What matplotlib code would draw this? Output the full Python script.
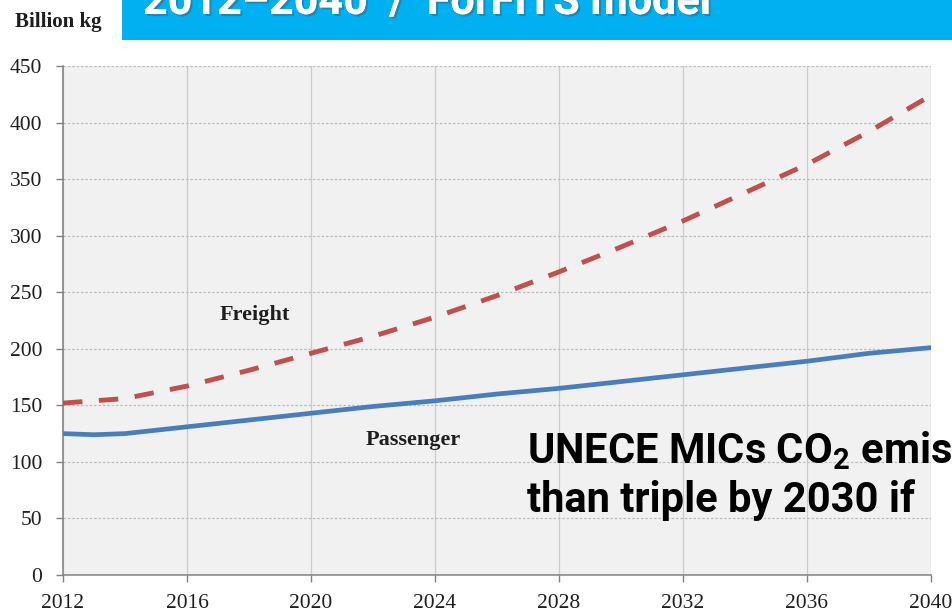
"""ForFITS projection of inland transport CO2 emissions, UNECE MICs, 2012-2040."""
import matplotlib
matplotlib.use("Agg")
import matplotlib.pyplot as plt
from matplotlib import patheffects
from matplotlib.patches import Rectangle

# ------------------------------ data ------------------------------

freight_years = [2012, 2014, 2016, 2018, 2020, 2022, 2024, 2026, 2028, 2030,
                 2032, 2034, 2036, 2038, 2040]
freight_kg = [152, 156, 167, 181, 196, 211, 228, 247, 268, 290,
              313, 338, 363, 392, 424]

passenger_years = [2012, 2013, 2014, 2016, 2018, 2020, 2022, 2024, 2026, 2028,
                   2030, 2032, 2034, 2036, 2038, 2040]
passenger_kg = [125, 124, 125, 131, 137, 143, 149, 154, 160, 165,
                171, 177, 183, 189, 196, 201]

x_ticks = [2012, 2016, 2020, 2024, 2028, 2032, 2036, 2040]
y_ticks = [0, 50, 100, 150, 200, 250, 300, 350, 400, 450]

W, H = 953, 612
SERIF = ["Liberation Serif", "DejaVu Serif"]
SLIDE = ["Roboto", "DejaVu Sans"]

plt.rcParams["mathtext.fontset"] = "custom"
plt.rcParams["mathtext.rm"] = "Roboto:bold"
plt.rcParams["mathtext.it"] = "Roboto:bold"


def px(x, y):
    """Pixel coords (origin top-left) -> figure fraction."""
    return x / W, 1 - y / H


def main():
    fig = plt.figure(figsize=(W / 100, H / 100), dpi=100)
    fig.patch.set_facecolor("white")

    left, top = px(63, 66)
    right, bottom = px(931, 575)
    ax = fig.add_axes([left, bottom, right - left, top - bottom])
    ax.set_facecolor("#f1f1f1")

    ax.plot(freight_years, freight_kg, color="#c0504d", lw=3.5,
            dashes=(4.0, 3.4), zorder=3)
    ax.plot(passenger_years, passenger_kg, color="#4a7ebb", lw=3.4, zorder=3)

    ax.set_xlim(2012, 2040); ax.set_ylim(0, 450)
    ax.set_xticks(x_ticks); ax.set_yticks(y_ticks)
    ax.tick_params(direction="out", length=5, width=1, color="#808080",
                   labelsize=15.5, labelcolor="#1e1e1e")
    ax.tick_params(axis="y", pad=10)
    ax.tick_params(axis="x", pad=9)
    for lab in ax.get_xticklabels() + ax.get_yticklabels():
        lab.set_family(SERIF)

    ax.xaxis.grid(True, color="#cbcbcb", lw=0.9)
    ax.yaxis.grid(True, color="#bdbdbd", lw=0.9, ls=(0, (2, 1.5)))
    ax.set_axisbelow(True)
    for side in ("top", "right"):
        ax.spines[side].set_visible(False)
    for side in ("left", "bottom"):
        ax.spines[side].set_color("#808080"); ax.spines[side].set_linewidth(1.1)

    ax.text(2018.2, 230, "Freight", family=SERIF, weight="bold", fontsize=16,
            ha="center", va="center", color="#1e1e1e")
    ax.text(2023.3, 119, "Passenger", family=SERIF, weight="bold", fontsize=16,
            ha="center", va="center", color="#1e1e1e")

    # unit label and the cut-off slide title banner
    fig.text(*px(15, 27), "Billion kg", family=SERIF, weight="bold", fontsize=15,
             ha="left", va="baseline", color="#1e1e1e")
    fig.add_artist(Rectangle(px(122, 40), (W - 122) / W, 40 / H,
                             transform=fig.transFigure, color="#00b0f0", lw=0))
    fig.text(*px(143, 14), "2012\u20132040  /  ForFITS model", family=SLIDE,
             weight="bold", fontsize=31, color="white", ha="left", va="baseline",
             path_effects=[patheffects.withSimplePatchShadow(offset=(1.5, -1.5),
                                                             alpha=0.4),
                           patheffects.Normal()])

    # slide call-out, cropped at the right edge of the slide
    fig.text(*px(527, 463), "UNECE MICs CO$_2$ emis", family=SLIDE,
             weight="bold", fontsize=30, ha="left", va="baseline")
    fig.text(*px(527, 512), "than triple by 2030 if", family=SLIDE,
             weight="bold", fontsize=30, ha="left", va="baseline")

    fig.savefig("out.png", dpi=100)
    plt.close(fig)


if __name__ == "__main__":
    main()
